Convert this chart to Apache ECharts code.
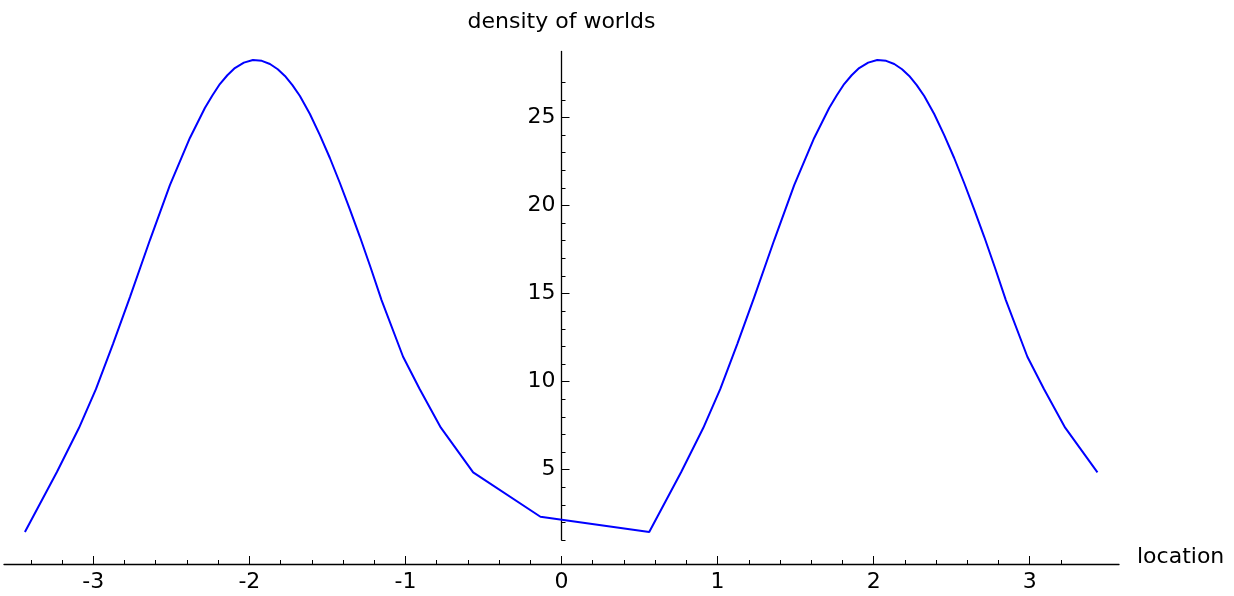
<!DOCTYPE html>
<html>
<head>
<meta charset="utf-8">
<script src="https://cdn.jsdelivr.net/npm/echarts@6/dist/echarts.min.js"></script>
<style>
  html, body { margin: 0; padding: 0; background: #fff; }
  #chart { width: 1234px; height: 596px; }
</style>
</head>
<body>
<div id="chart"></div>
<script>
// Sampled curve: density of worlds against location
const location_ = [
  -3.438, -3.233, -3.092, -2.983, -2.874, -2.765, -2.637, -2.509, -2.381, -2.285,
  -2.237, -2.189, -2.141, -2.093, -2.035, -1.977, -1.920, -1.868, -1.818, -1.772,
  -1.724, -1.676, -1.612, -1.548, -1.484, -1.420, -1.356, -1.291, -1.222, -1.153,
  -1.015, -0.908, -0.773, -0.566, -0.135, 0.562,
  0.767, 0.908, 1.017, 1.126, 1.235, 1.363, 1.491, 1.619, 1.715,
  1.763, 1.811, 1.859, 1.907, 1.965, 2.023, 2.080, 2.132, 2.182, 2.228,
  2.276, 2.324, 2.388, 2.452, 2.516, 2.580, 2.644, 2.709, 2.778, 2.847,
  2.985, 3.092, 3.227, 3.434
];
const density = [
  1.45, 4.86, 7.36, 9.57, 12.13, 14.80, 18.04, 21.16, 23.84, 25.54,
  26.25, 26.90, 27.40, 27.81, 28.12, 28.27, 28.22, 28.04, 27.74, 27.36,
  26.84, 26.22, 25.20, 24.00, 22.70, 21.28, 19.78, 18.21, 16.45, 14.63,
  11.41, 9.56, 7.38, 4.84, 2.32, 1.45,
  4.86, 7.36, 9.57, 12.13, 14.80, 18.04, 21.16, 23.84, 25.54,
  26.25, 26.90, 27.40, 27.81, 28.12, 28.27, 28.22, 28.04, 27.74, 27.36,
  26.84, 26.22, 25.20, 24.00, 22.70, 21.28, 19.78, 18.21, 16.45, 14.63,
  11.41, 9.56, 7.38, 4.84
];

// Tick positions
const xMajorTicks = [-3, -2, -1, 0, 1, 2, 3];
const xMinorTicks = [-3.4, -3.2, -2.8, -2.6, -2.4, -2.2, -1.8, -1.6, -1.4, -1.2,
  -0.8, -0.6, -0.4, -0.2, 0.2, 0.4, 0.6, 0.8, 1.2, 1.4, 1.6, 1.8,
  2.2, 2.4, 2.6, 2.8, 3.2];
const yMajorTicks = [5, 10, 15, 20, 25];
const yMinorTicks = [1, 2, 3, 4, 6, 7, 8, 9, 11, 12, 13, 14, 16, 17, 18, 19,
  21, 22, 23, 24, 26, 27];

const FONT = 'DejaVu Sans';
const X_MIN = -3.572, X_MAX = 3.572;
const Y_MIN = 1.0, Y_MAX = 28.75;
const GRID_LEFT = 4, GRID_RIGHT = 115;
const X_OFFSET = 24;

const chart = echarts.init(document.getElementById('chart'), null, { renderer: 'canvas' });

const points = location_.map((x, i) => [x, density[i]]);

// Place the vertical axis where location = 0
const gridWidth = 1234 - GRID_LEFT - GRID_RIGHT;
const zeroPx = GRID_LEFT + (0 - X_MIN) / (X_MAX - X_MIN) * gridWidth;
const Y_OFFSET = -(zeroPx - GRID_LEFT);

chart.setOption({
  animation: false,
  backgroundColor: '#ffffff',
  grid: {
    left: GRID_LEFT, right: GRID_RIGHT, top: 51.5, bottom: 56,
    containLabel: false,
    outerBoundsMode: 'none'
  },
  xAxis: [
    {
      type: 'value',
      min: X_MIN, max: X_MAX,
      position: 'bottom',
      offset: X_OFFSET,
      name: 'location',
      nameLocation: 'end',
      nameGap: 18,
      nameTextStyle: { fontFamily: FONT, fontSize: 22, color: '#000',
        verticalAlign: 'bottom', lineHeight: 14 },
      axisLine: { show: true, onZero: false, lineStyle: { color: '#000', width: 1.3 } },
      axisTick: { show: true, inside: true, length: 8, customValues: xMajorTicks,
        lineStyle: { color: '#000', width: 1 } },
      axisLabel: { show: true, customValues: xMajorTicks, margin: 7,
        fontFamily: FONT, fontSize: 22, color: '#000',
        formatter: v => String(v) },
      splitLine: { show: false },
      minorTick: { show: false }
    },
    {
      type: 'value',
      min: X_MIN, max: X_MAX,
      position: 'bottom',
      offset: X_OFFSET,
      axisLine: { show: false, onZero: false },
      axisTick: { show: true, inside: true, length: 4, customValues: xMinorTicks,
        lineStyle: { color: '#000', width: 1 } },
      axisLabel: { show: false },
      splitLine: { show: false }
    }
  ],
  yAxis: [
    {
      type: 'value',
      min: Y_MIN, max: Y_MAX,
      position: 'left',
      offset: Y_OFFSET,
      name: 'density of worlds',
      nameLocation: 'end',
      nameGap: 18,
      nameTextStyle: { fontFamily: FONT, fontSize: 22, color: '#000', align: 'center' },
      axisLine: { show: true, onZero: false, lineStyle: { color: '#000', width: 1.3 } },
      axisTick: { show: true, inside: true, length: 8, customValues: yMajorTicks,
        lineStyle: { color: '#000', width: 1 } },
      axisLabel: { show: true, customValues: yMajorTicks, margin: 6,
        fontFamily: FONT, fontSize: 22, color: '#000',
        formatter: v => String(v) },
      splitLine: { show: false }
    },
    {
      type: 'value',
      min: Y_MIN, max: Y_MAX,
      position: 'left',
      offset: Y_OFFSET,
      axisLine: { show: false, onZero: false },
      axisTick: { show: true, inside: true, length: 4, customValues: yMinorTicks,
        lineStyle: { color: '#000', width: 1 } },
      axisLabel: { show: false },
      splitLine: { show: false }
    }
  ],
  series: [
    {
      type: 'line',
      xAxisIndex: 0,
      yAxisIndex: 0,
      data: points,
      showSymbol: false,
      symbol: 'none',
      smooth: false,
      clip: false,
      lineStyle: { color: '#0000ff', width: 2 },
      emphasis: { disabled: true }
    }
  ]
});
</script>
</body>
</html>
